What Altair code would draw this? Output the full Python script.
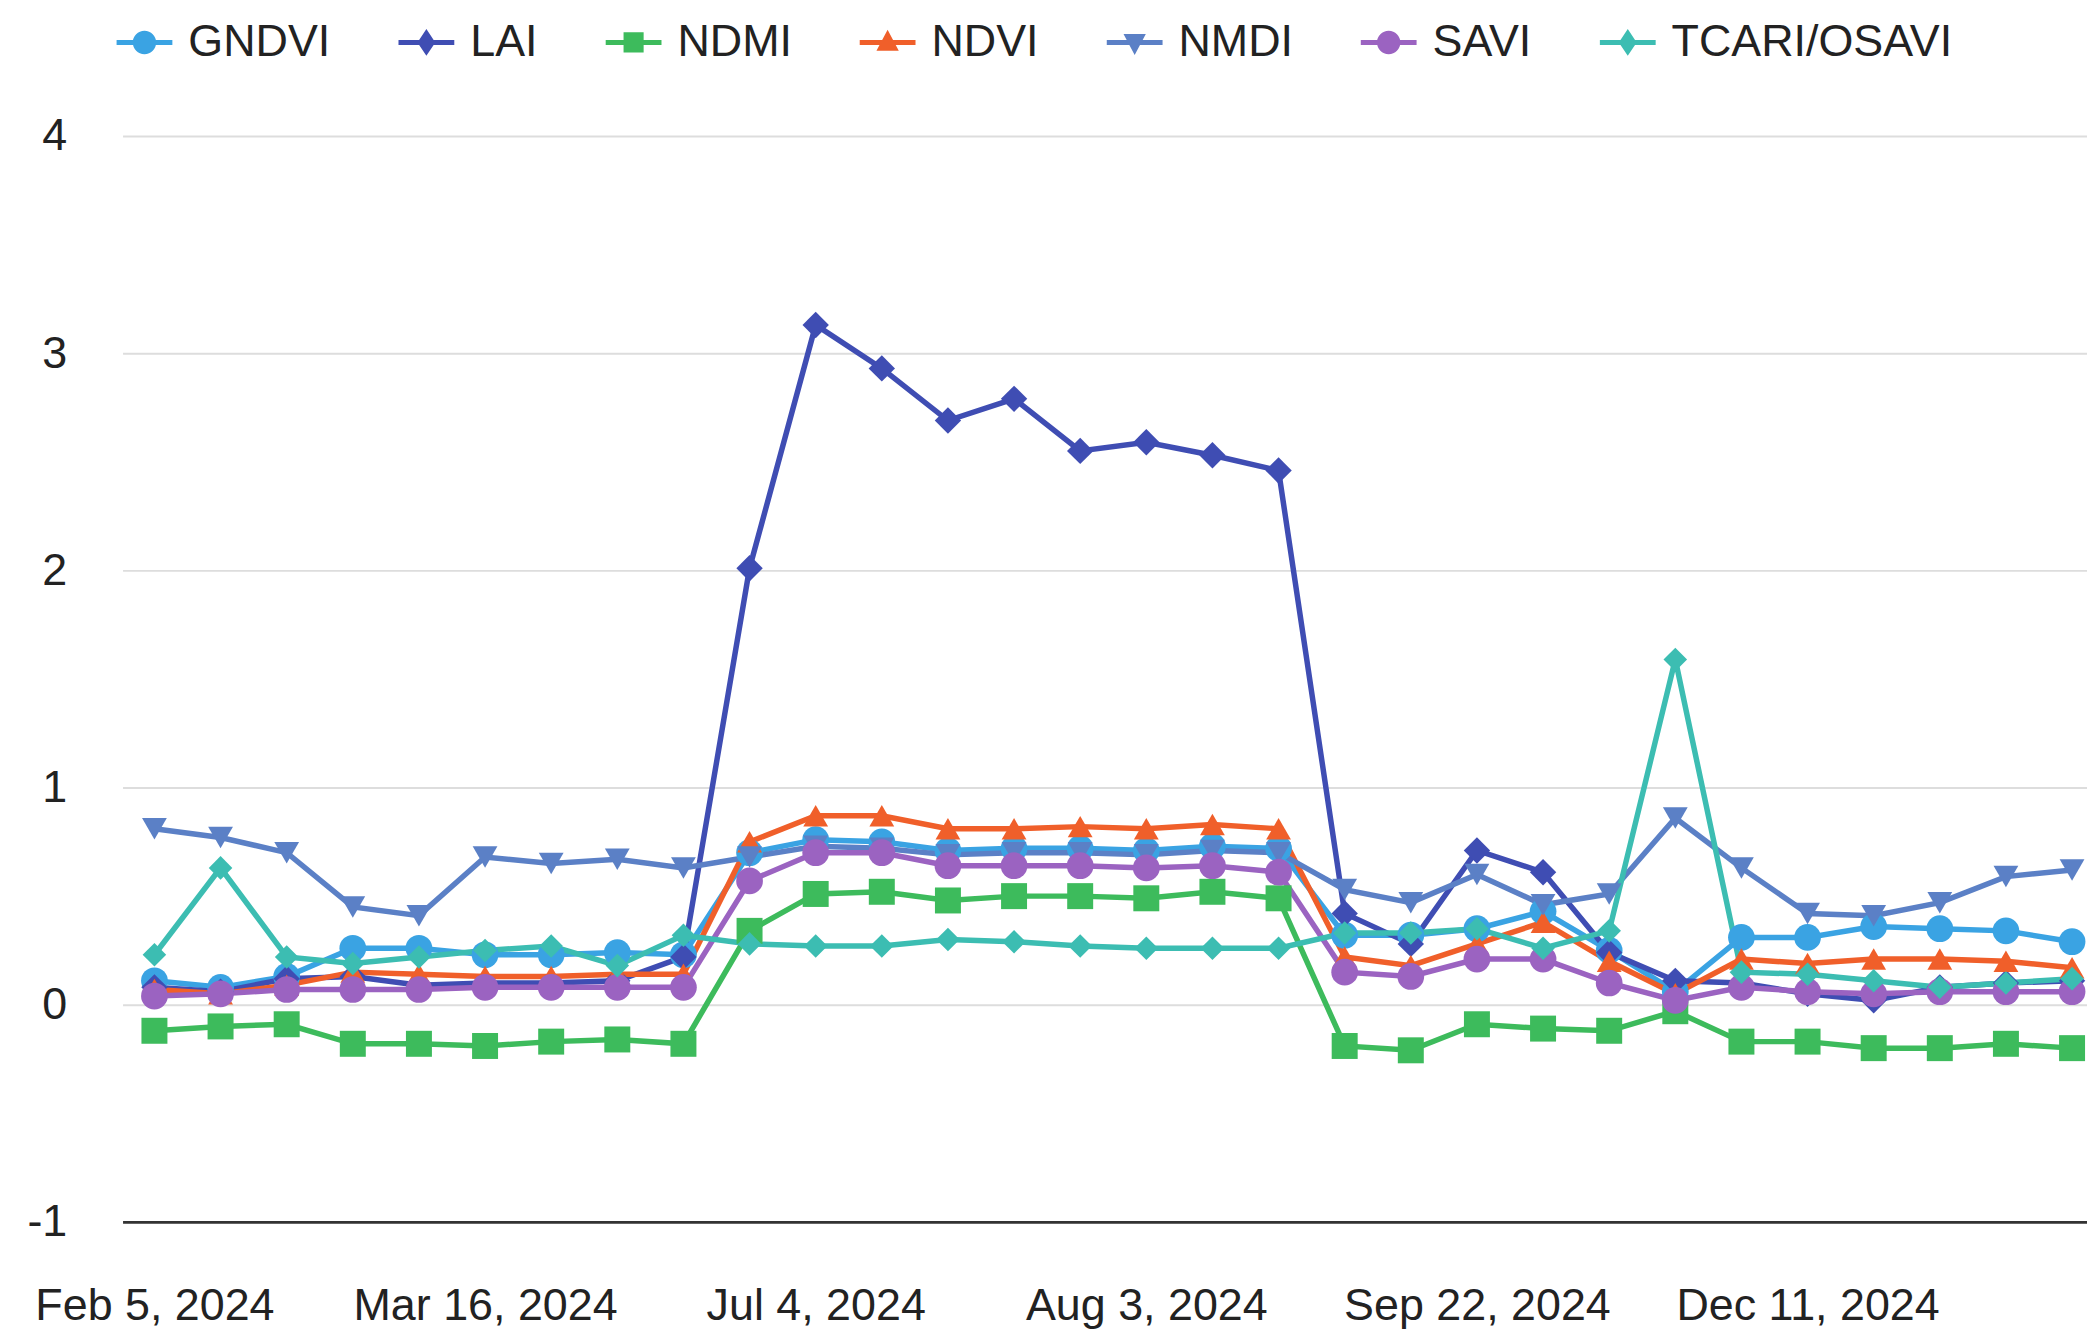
import altair as alt
import pandas as pd

series = ["GNDVI", "LAI", "NDMI", "NDVI", "NMDI", "SAVI", "TCARI/OSAVI"]
tick_positions = [0, 5, 10, 15, 20, 25]
tick_labels = ["Feb 5, 2024", "Mar 16, 2024", "Jul 4, 2024", "Aug 3, 2024",
               "Sep 22, 2024", "Dec 11, 2024"]
y_ticks = [-1, 0, 1, 2, 3, 4]

gndvi = [0.11, 0.08, 0.13, 0.26, 0.26, 0.23, 0.23, 0.24, 0.23,
         0.70, 0.76, 0.75, 0.71, 0.72, 0.72, 0.71, 0.73, 0.72,
         0.32, 0.32, 0.35, 0.43, 0.25, 0.06, 0.31, 0.31, 0.36, 0.35, 0.34, 0.29]
lai = [0.08, 0.06, 0.12, 0.13, 0.09, 0.10, 0.10, 0.11, 0.22,
       2.01, 3.13, 2.93, 2.69, 2.79, 2.55, 2.59, 2.53, 2.46,
       0.42, 0.28, 0.71, 0.61, 0.24, 0.11, 0.10, 0.05, 0.02, 0.08, 0.10, 0.11]
ndmi = [-0.12, -0.10, -0.09, -0.18, -0.18, -0.19, -0.17, -0.16, -0.18,
        0.34, 0.51, 0.52, 0.48, 0.50, 0.50, 0.49, 0.52, 0.49,
        -0.19, -0.21, -0.09, -0.11, -0.12, -0.03, -0.17, -0.17, -0.20, -0.20, -0.18, -0.20]
ndvi = [0.07, 0.05, 0.09, 0.15, 0.14, 0.13, 0.13, 0.14, 0.14,
        0.75, 0.87, 0.87, 0.81, 0.81, 0.82, 0.81, 0.83, 0.81,
        0.22, 0.18, 0.28, 0.38, 0.20, 0.05, 0.21, 0.19, 0.21, 0.21, 0.20, 0.17]
nmdi = [0.81, 0.77, 0.70, 0.45, 0.41, 0.68, 0.65, 0.67, 0.63,
        0.68, 0.73, 0.72, 0.69, 0.70, 0.70, 0.69, 0.71, 0.70,
        0.53, 0.47, 0.60, 0.46, 0.51, 0.86, 0.63, 0.42, 0.41, 0.47, 0.59, 0.62]
savi = [0.04, 0.05, 0.07, 0.07, 0.07, 0.08, 0.08, 0.08, 0.08,
        0.57, 0.70, 0.70, 0.64, 0.64, 0.64, 0.63, 0.64, 0.61,
        0.15, 0.13, 0.21, 0.21, 0.10, 0.02, 0.08, 0.06, 0.05, 0.06, 0.06, 0.06]
tcari = [0.23, 0.63, 0.22, 0.19, 0.22, 0.25, 0.27, 0.18, 0.32,
         0.28, 0.27, 0.27, 0.30, 0.29, 0.27, 0.26, 0.26, 0.26,
         0.33, 0.33, 0.35, 0.26, 0.34, 1.59, 0.15, 0.14, 0.11, 0.08, 0.10, 0.12]

values = [gndvi, lai, ndmi, ndvi, nmdi, savi, tcari]

colors = ["#3aa3e3", "#3f4db3", "#3dbb5c", "#f05f2a", "#5b80c6", "#9b63c1", "#3cbdb2"]
shapes = ["circle", "diamond", "square", "triangle-up", "triangle-down", "circle", "diamond"]
sizes = [720, 700, 680, 620, 620, 720, 560]

bar = "M-1,-0.09H1V0.09H-1Z"
legend_marks = {
    "circle": "M0.42,0A0.42,0.42 0 1,1 -0.42,0A0.42,0.42 0 1,1 0.42,0Z",
    "diamond": "M0,-0.48L0.32,0L0,0.48L-0.32,0Z",
    "square": "M-0.36,-0.36H0.36V0.36H-0.36Z",
    "triangle-up": "M0,-0.45L0.4,0.3H-0.4Z",
    "triangle-down": "M-0.4,-0.3H0.4L0,0.45Z",
}
legend_paths = [bar + legend_marks[s] for s in shapes]

rows = []
for s, vals in zip(series, values):
    for i, v in enumerate(vals):
        rows.append({"series": s, "idx": i, "value": v})
df = pd.DataFrame(rows)

FONT = "Liberation Sans"
label_expr = ("[" + ",".join("'" + t + "'" for t in tick_labels) + "]"
              "[indexof([" + ",".join(str(p) for p in tick_positions) + "], datum.value)]")

xenc = alt.X("idx:Q",
             scale=alt.Scale(domain=[-0.482, 29.226], nice=False, zero=False),
             axis=alt.Axis(values=tick_positions, labelExpr=label_expr, grid=False,
                           ticks=False, tickSize=0, domain=True, domainColor="#333333",
                           domainWidth=3, labelFontSize=45, labelColor="#222222",
                           labelFont=FONT, labelPadding=62, title=None,
                           labelFlush=False, labelOverlap=False, labelLimit=0))
yenc = alt.Y("value:Q",
             scale=alt.Scale(domain=[-1, 4], nice=False, zero=False),
             axis=alt.Axis(values=y_ticks, grid=True, gridColor="#dddddd",
                           gridWidth=2, domain=False, ticks=False, tickSize=0,
                           labelFontSize=45, labelColor="#222222", labelFont=FONT,
                           labelPadding=56, title=None, labelExpr="'' + datum.value",
                           labelLimit=0))

# series names are already in ascending order, so data-derived domains match colors
lines = alt.Chart(df).mark_line(strokeWidth=5.5).encode(
    x=xenc, y=yenc,
    stroke=alt.Stroke("series:N", scale=alt.Scale(range=colors), legend=None))

layers = [lines]
for s, shp, sz in zip(series, shapes, sizes):
    layers.append(
        alt.Chart(df).transform_filter(alt.datum.series == s)
        .mark_point(shape=shp, filled=True, size=sz, opacity=1, strokeWidth=0)
        .encode(x=xenc, y=yenc,
                color=alt.Color("series:N", scale=alt.Scale(range=colors), legend=None))
    )

legend_layer = alt.Chart(df).transform_filter("datum.idx < 0").mark_point(
    filled=True, opacity=1, size=3136, strokeWidth=0).encode(
    x=xenc, y=yenc,
    fill=alt.Fill("series:N", scale=alt.Scale(domain=series, range=colors),
                  legend=alt.Legend(title=None)),
    shape=alt.Shape("series:N", scale=alt.Scale(domain=series, range=legend_paths),
                    legend=alt.Legend(title=None)),
)
layers.append(legend_layer)

chart = (
    alt.layer(*layers)
    .properties(
        width=1972, height=1090,
        autosize=alt.AutoSizeParams(type="none"),
        padding={"left": 115, "top": 126, "right": 0, "bottom": 106},
    )
    .configure(font=FONT)
    .configure_view(stroke=None, strokeWidth=0)
    .configure_axisY(domain=False)
    .configure_legend(
        orient="none", legendX=-6, legendY=-122, direction="horizontal", columns=7,
        columnPadding=68, labelFontSize=45, labelColor="#222222", labelFont=FONT,
        labelOffset=16, symbolSize=3136, symbolStrokeWidth=0, padding=0,
        labelLimit=400,
    )
)

chart.save("out.html", embed_options={"renderer": "svg", "actions": False})
